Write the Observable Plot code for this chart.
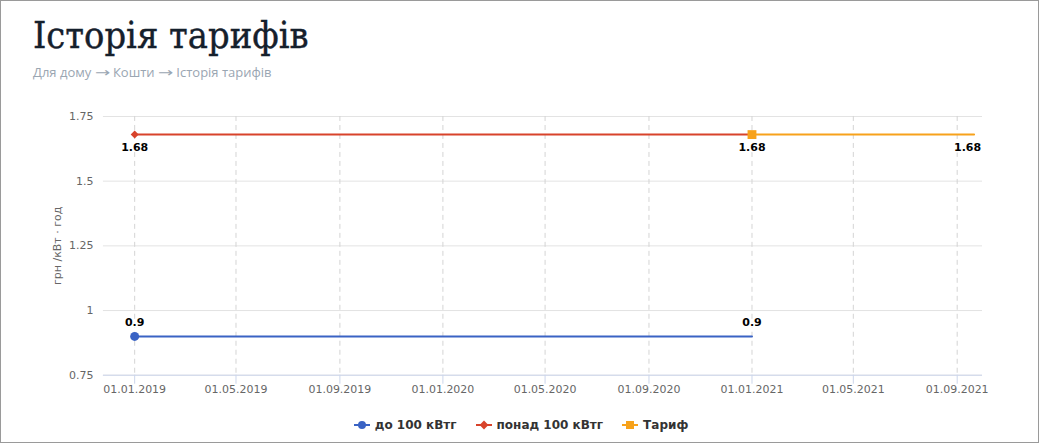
<!DOCTYPE html>
<html><head><meta charset="utf-8">
<script src="https://cdn.jsdelivr.net/npm/d3@7"></script>
<script src="https://cdn.jsdelivr.net/npm/@observablehq/plot@0.6"></script>
<style>
html,body{margin:0;padding:0;background:#fff;}
#page{position:relative;width:1039px;height:443px;box-sizing:border-box;border:1px solid #9a9a9a;overflow:hidden;}
#title{position:absolute;left:32px;top:13px;font-family:"DejaVu Serif";font-size:37px;color:#15202c;white-space:nowrap;transform:scaleX(0.915);transform-origin:0 0;-webkit-text-stroke:0.4px #15202c;}
#sub{position:absolute;left:32px;top:62px;font-family:"Open Sans";font-size:13px;color:#9aa6b2;white-space:pre;}
#sub .ar{display:inline-block;font-family:"DejaVu Sans";transform:scaleX(1.4);margin:0 2px;}
#chart{position:absolute;left:-1px;top:99px;}
#legend{position:absolute;left:0;width:1039px;top:417px;display:flex;justify-content:center;gap:18px;font-family:"DejaVu Sans";font-weight:bold;font-size:12px;color:#333;}
.item{display:flex;align-items:center;gap:4px;}
</style></head>
<body><div id="page">
<div id="title">Історія тарифів</div>
<div id="sub"></div>
<div id="chart"></div>
<div id="legend"></div>
</div>
<script>
// data
const titleText = "Історія тарифів";
const breadcrumb = ["Для дому", "Кошти", "Історія тарифів"];
const seriesNames = ["до 100 кВтг", "понад 100 кВтг", "Тариф"];
const seriesColors = ["#3a63c4", "#d8432b", "#f7a21b"];
const seriesSymbols = ["circle", "diamond2", "square"];
const blueDates = ["2019-01-01", "2021-01-01"];
const blueValues = [0.9, 0.9];
const redDates = ["2019-01-01", "2021-01-01"];
const redValues = [1.68, 1.68];
const orangeDates = ["2021-01-01", "2021-09-21"];
const orangeValues = [1.68, 1.68];
const xTickLabels = ["2019-01-01","2019-05-01","2019-09-01","2020-01-01","2020-05-01","2020-09-01","2021-01-01","2021-05-01","2021-09-01"];
const yTickValues = [0.75, 1, 1.25, 1.5, 1.75];
const xDomain = ["2018-11-25", "2021-10-01"];
const yLabel = "грн /кВт · год";

// subtitle
const sub = document.getElementById("sub");
breadcrumb.forEach((b, i) => {
  if (i > 0) {
    sub.appendChild(document.createTextNode(" "));
    const a = document.createElement("span"); a.className = "ar"; a.textContent = "→"; sub.appendChild(a);
    sub.appendChild(document.createTextNode(" "));
  }
  sub.appendChild(document.createTextNode(b));
});

const mk = (dates, vals, s) => dates.map((d, i) => ({date: new Date(d), value: vals[i], series: s}));
const blue = mk(blueDates, blueValues, seriesNames[0]);
const red = mk(redDates, redValues, seriesNames[1]);
const orange = mk(orangeDates, orangeValues, seriesNames[2]);
const xTicks = xTickLabels.map(d => new Date(d));
const fmt = d3.utcFormat("%d.%m.%Y");

const labelStyle = {fill: "#000", fontWeight: "bold", fontSize: 11, fontFamily: "DejaVu Sans", stroke: "#fff", strokeWidth: 3, paintOrder: "stroke"};

const chart = Plot.plot({
  width: 1039, height: 310,
  marginLeft: 103, marginRight: 56, marginTop: 16, marginBottom: 35,
  style: {fontFamily: "DejaVu Sans", fontSize: "11px", color: "#666", background: "transparent", overflow: "visible"},
  x: {type: "utc", domain: xDomain.map(d => new Date(d))},
  y: {domain: [0.75, 1.75]},
  marks: [
    Plot.gridY(yTickValues, {stroke: "#e3e3e3", strokeOpacity: 1}),
    Plot.gridX(xTicks, {stroke: "#d4d4d4", strokeOpacity: 1, strokeDasharray: "5,4"}),
    Plot.ruleY([0.75], {stroke: "#ccd6eb"}),
    Plot.axisX(xTicks, {tickFormat: fmt, tickSize: 9, stroke: "#ccd6eb", tickPadding: 1, fill: "#666", label: null, fontSize: 11}),
    Plot.axisY(yTickValues, {tickSize: 0, tickPadding: 10, tickFormat: d => String(d), fill: "#666", label: null, fontSize: 11}),
    Plot.text([yLabel], {frameAnchor: "left", dx: -46, rotate: -90, textAnchor: "middle", fill: "#666", fontSize: 11}),
    Plot.line(blue, {x: "date", y: "value", stroke: seriesColors[0], strokeWidth: 2}),
    Plot.line(red, {x: "date", y: "value", stroke: seriesColors[1], strokeWidth: 2}),
    Plot.line(orange, {x: "date", y: "value", stroke: seriesColors[2], strokeWidth: 2}),
    Plot.dot(blue.slice(0, 1), {x: "date", y: "value", fill: seriesColors[0], r: 4.5, symbol: "circle"}),
    Plot.dot(red.slice(0, 1), {x: "date", y: "value", fill: seriesColors[1], r: 3.6, symbol: "diamond2"}),
    Plot.dot(orange.slice(0, 1), {x: "date", y: "value", fill: seriesColors[2], r: 5, symbol: "square"}),
    Plot.text(blue, {x: "date", y: "value", text: d => String(d.value), dy: -14, ...labelStyle}),
    Plot.text(red, {x: "date", y: "value", text: d => String(d.value), dy: 13, ...labelStyle}),
    Plot.text(orange.slice(1), {x: "date", y: "value", text: d => String(d.value), dy: 13, dx: 7, textAnchor: "end", ...labelStyle})
  ]
});
document.getElementById("chart").appendChild(chart);

// legend
const leg = document.getElementById("legend");
seriesNames.forEach((n, i) => {
  const it = document.createElement("div"); it.className = "item";
  const sym = d3.create("svg").attr("width", 18).attr("height", 12);
  sym.append("line").attr("x1", 1).attr("x2", 17).attr("y1", 6).attr("y2", 6).attr("stroke", seriesColors[i]).attr("stroke-width", 2);
  const s = {circle: d3.symbolCircle, diamond2: d3.symbolDiamond2, square: d3.symbolSquare}[seriesSymbols[i]];
  sym.append("path").attr("d", d3.symbol(s, seriesSymbols[i] === "square" ? 64 : 50)()).attr("transform", "translate(9,6)").attr("fill", seriesColors[i]);
  it.appendChild(sym.node());
  const t = document.createElement("span"); t.textContent = n; it.appendChild(t);
  leg.appendChild(it);
});
</script>
</body></html>
